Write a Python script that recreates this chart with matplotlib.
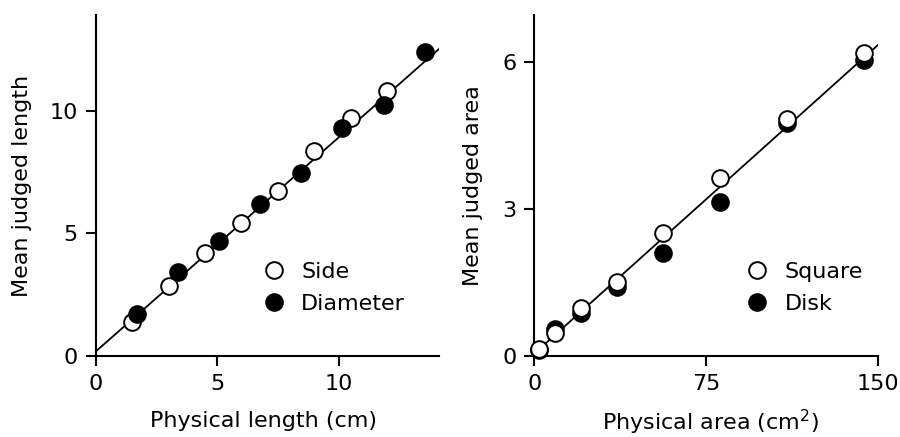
import numpy as np
import matplotlib
matplotlib.use('Agg')
import matplotlib.pyplot as plt

plt.rcParams['font.family'] = 'DejaVu Sans'
plt.rcParams['font.size'] = 16

# left panel: lengths
side_x = [1.5, 3.0, 4.5, 6.0, 7.5, 9.0, 10.5, 12.0]
side_y = [1.40, 2.86, 4.19, 5.44, 6.71, 8.37, 9.70, 10.79]
diam_x = [1.69, 3.39, 5.08, 6.77, 8.46, 10.15, 11.85, 13.54]
diam_y = [1.71, 3.44, 4.69, 6.20, 7.46, 9.29, 10.22, 12.38]
fit_length = (0.18, 0.873)   # intercept, slope

# right panel: areas
square_x = [2.25, 9.0, 20.25, 36.0, 56.25, 81.0, 110.25, 144.0]
square_y = [0.14, 0.47, 0.97, 1.51, 2.50, 3.62, 4.84, 6.18]
disk_x = [2.25, 9.0, 20.25, 36.0, 56.25, 81.0, 110.25, 144.0]
disk_y = [0.12, 0.56, 0.88, 1.41, 2.09, 3.13, 4.74, 6.03]
fit_area = (0.05, 0.0419)


def style_axes(ax, xlim, ylim, xticks, yticks):
    ax.set_xlim(*xlim)
    ax.set_ylim(*ylim)
    ax.set_xticks(xticks)
    ax.set_yticks(yticks)
    for s in ['top', 'right']:
        ax.spines[s].set_visible(False)
    for s in ['left', 'bottom']:
        ax.spines[s].set_linewidth(1.5)
    ax.tick_params(direction='out', length=7, width=1.5, pad=6, labelsize=16)


fig = plt.figure(figsize=(9, 4.37), dpi=100)
ax1 = fig.add_axes([0.1063, 0.1854, 0.3818, 0.7803])
ax2 = fig.add_axes([0.5937, 0.1854, 0.3816, 0.7803])

mk = dict(marker='o', markersize=12, markeredgewidth=1.4, markeredgecolor='black',
          linestyle='none', clip_on=False, zorder=3)

# left
xl = np.array([0, 14.14])
ax1.plot(xl, fit_length[0] + fit_length[1] * xl, color='black', lw=1.3, zorder=2)
h_side, = ax1.plot(side_x, side_y, markerfacecolor='white', label='Side', **mk)
h_diam, = ax1.plot(diam_x, diam_y, markerfacecolor='black', label='Diameter', **mk)
style_axes(ax1, (0, 14.14), (0, 13.9), [0, 5, 10], [0, 5, 10])
ax1.set_xlabel('Physical length (cm)', fontsize=16)
ax1.set_ylabel('Mean judged length', fontsize=16)
ax1.xaxis.set_label_coords(0.487, -0.161)
ax1.yaxis.set_label_coords(-0.185, 0.5)
ax1.legend(handles=[h_side, h_diam], loc='center left', bbox_to_anchor=(0.486, 0.2),
           frameon=False, borderpad=0, borderaxespad=0, handlelength=1.0,
           handletextpad=0.73, labelspacing=0.55, fontsize=16)

# right
xa = np.array([0, 150])
ax2.plot(xa, fit_area[0] + fit_area[1] * xa, color='black', lw=1.3, zorder=2)
h_disk, = ax2.plot(disk_x, disk_y, markerfacecolor='black', label='Disk', **mk)
h_sq, = ax2.plot(square_x, square_y, markerfacecolor='white', label='Square', **mk)
style_axes(ax2, (0, 150), (0, 6.95), [0, 75, 150], [0, 3, 6])
ax2.set_xlabel(r'Physical area (cm$^2$)', fontsize=16)
ax2.set_ylabel('Mean judged area', fontsize=16)
ax2.xaxis.set_label_coords(0.512, -0.152)
ax2.yaxis.set_label_coords(-0.149, 0.5)
ax2.legend(handles=[h_sq, h_disk], loc='center left', bbox_to_anchor=(0.6165, 0.2),
           frameon=False, borderpad=0, borderaxespad=0, handlelength=1.0,
           handletextpad=0.73, labelspacing=0.55, fontsize=16)

fig.savefig('out.png', dpi=100)
